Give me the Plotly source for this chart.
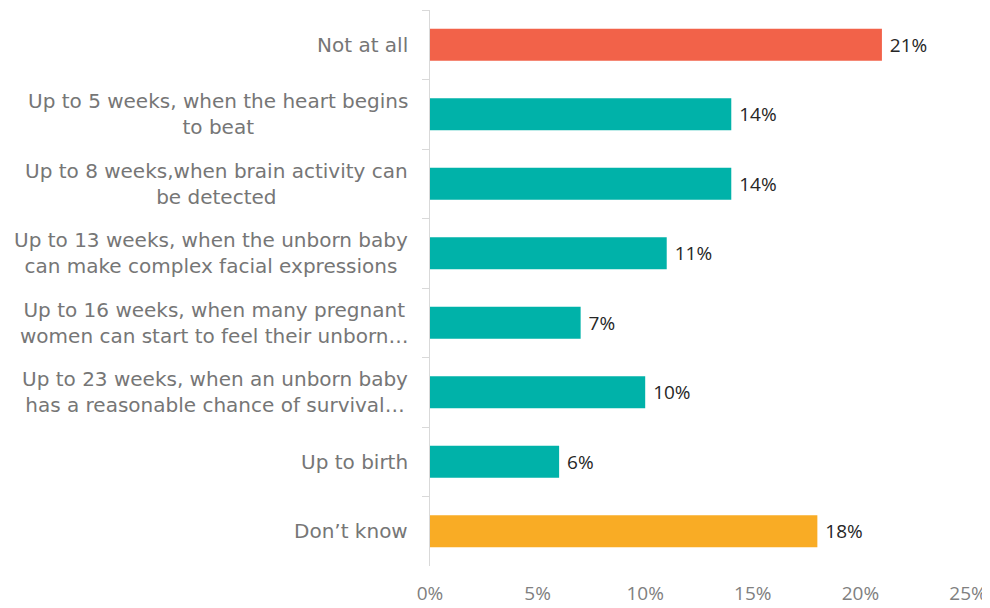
import plotly.graph_objects as go

categories = [
    "Not at all",
    "Up to 5 weeks, when the heart begins<br>to beat",
    "Up to 8 weeks,when brain activity can<br>be detected",
    "Up to 13 weeks, when the unborn baby<br>can make complex facial expressions",
    "Up to 16 weeks, when many pregnant<br>women can start to feel their unborn…",
    "Up to 23 weeks, when an unborn baby<br>has a reasonable chance of survival…",
    "Up to birth",
    "Don’t know",
]
values = [21, 14, 14, 11, 7, 10, 6, 18]
bar_colors = ["#F26249", "#00B2A9", "#00B2A9", "#00B2A9", "#00B2A9", "#00B2A9", "#00B2A9", "#F9AC25"]
x_ticks = [0, 5, 10, 15, 20, 25]
x_tick_labels = ["0%", "5%", "10%", "15%", "20%", "25%"]

fig = go.Figure()
fig.add_trace(go.Bar(
    y=categories,
    x=values,
    orientation="h",
    marker=dict(color=bar_colors, line=dict(width=0)),
    width=0.46,
    text=[f" {v}%" for v in values],
    textposition="outside",
    textfont=dict(family="Open Sans", size=19, color="#262626"),
    cliponaxis=False,
    hoverinfo="skip",
))

for c in categories:
    fig.add_annotation(
        x=0, xref="paper", y=c, yref="y",
        text=c, showarrow=False, xanchor="right", yanchor="middle",
        align="center", xshift=-20,
        font=dict(family="DejaVu Sans", size=20, color="#767676"),
    )

fig.update_layout(
    width=982, height=600,
    margin=dict(l=422, r=22, t=2, b=40),
    paper_bgcolor="white", plot_bgcolor="white",
    showlegend=False,
    xaxis=dict(
        range=[0, 25], tickvals=x_ticks, ticktext=x_tick_labels,
        showgrid=False, zeroline=False, showline=False,
        tickfont=dict(family="Open Sans", size=19, color="#808080"),
        ticks="outside", ticklen=10, tickcolor="rgba(0,0,0,0)",
    ),
    yaxis=dict(
        autorange="reversed", showticklabels=False,
        showline=True, linecolor="#D9D9D9", linewidth=1,
        ticks="outside", ticklen=7, tickcolor="#D9D9D9", tickson="boundaries",
        showgrid=False, zeroline=False,
    ),
)

fig.write_html("out.html")
